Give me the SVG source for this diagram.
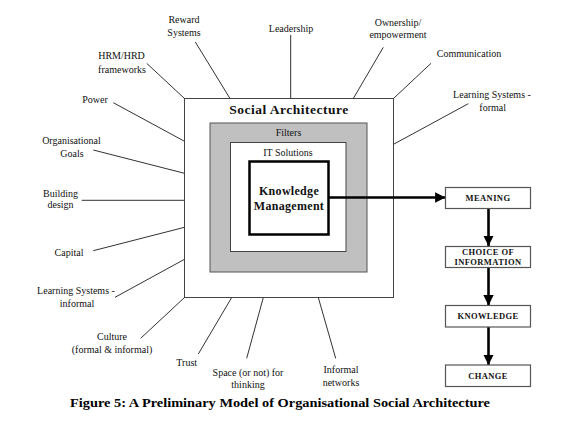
<svg xmlns="http://www.w3.org/2000/svg" width="576" height="432" viewBox="0 0 576 432">
<defs>
<marker id="ah" viewBox="0 0 10 10" refX="10" refY="5" markerWidth="4" markerHeight="4" markerUnits="strokeWidth" orient="auto">
<path d="M0,0 L10,5 L0,10 z" fill="#000"/>
</marker>
<style>
.lbl{font-family:"Liberation Serif","Times New Roman",serif;font-size:10px;fill:#111;text-anchor:middle}
.spoke{stroke:#333;stroke-width:1;fill:none}
.flow{font-family:"Liberation Serif","Times New Roman",serif;font-size:8.5px;font-weight:bold;fill:#111;text-anchor:middle;letter-spacing:0.4px}
.fbox{fill:#fff;stroke:#555;stroke-width:1.2}
.arr{stroke:#000;stroke-width:2.6;fill:none;marker-end:url(#ah)}
</style>
</defs>
<rect width="576" height="432" fill="#fff"/>

<g id="social-architecture">
<rect x="184.5" y="98.5" width="209" height="199" fill="#fff" stroke="#444" stroke-width="1"/>
<text x="289" y="114" style="font-family:'Liberation Serif','Times New Roman',serif;font-size:13.5px;font-weight:bold;fill:#111;text-anchor:middle;letter-spacing:0.5px">Social Architecture</text>
</g>
<g id="filters">
<rect x="210" y="123" width="157" height="149" fill="#c0c0c0" stroke="#555" stroke-width="1"/>
<rect x="230.5" y="142.5" width="115.5" height="109" fill="#fff" stroke="#444" stroke-width="1"/>
<text x="288.5" y="135.5" class="lbl">Filters</text>
</g>
<g id="it-solutions">
<text x="288" y="155.5" class="lbl">IT Solutions</text>
</g>
<g id="knowledge-management">
<rect x="249.5" y="161.5" width="79" height="73" fill="#fff" stroke="#000" stroke-width="2.5"/>
<text x="289" y="195" style="font-family:'Liberation Serif','Times New Roman',serif;font-size:12px;font-weight:bold;fill:#111;text-anchor:middle;letter-spacing:0.3px">Knowledge</text>
<text x="289" y="209.5" style="font-family:'Liberation Serif','Times New Roman',serif;font-size:12px;font-weight:bold;fill:#111;text-anchor:middle;letter-spacing:0.3px">Management</text>
</g>

<g id="connectors">
<line class="spoke" x1="195.3" y1="42" x2="230" y2="98.5"/>
<line class="spoke" x1="290.7" y1="35" x2="290.7" y2="98.5"/>
<line class="spoke" x1="383.3" y1="47.3" x2="353.3" y2="98.5"/>
<line class="spoke" x1="431" y1="63.3" x2="393.5" y2="98.5"/>
<line class="spoke" x1="468.3" y1="103.7" x2="393.5" y2="144.3"/>
<line class="spoke" x1="146.7" y1="63.3" x2="184.5" y2="98.5"/>
<line class="spoke" x1="113.3" y1="102.7" x2="184.5" y2="141.3"/>
<line class="spoke" x1="93.3" y1="150" x2="184.5" y2="173.3"/>
<line class="spoke" x1="81.7" y1="200.3" x2="184.5" y2="200.3"/>
<line class="spoke" x1="93.3" y1="250.7" x2="184.5" y2="227.3"/>
<line class="spoke" x1="115" y1="297.3" x2="184.5" y2="259.3"/>
<line class="spoke" x1="140.7" y1="338.3" x2="184.5" y2="297.5"/>
<line class="spoke" x1="198.3" y1="354" x2="231.7" y2="297.5"/>
<line class="spoke" x1="246.7" y1="358.3" x2="263.3" y2="297.5"/>
<line class="spoke" x1="335.7" y1="358.3" x2="318.3" y2="297.5"/>
<line class="arr" x1="328.5" y1="197.5" x2="445.5" y2="197.5"/>
<line class="arr" x1="488.5" y1="208.5" x2="488.5" y2="246"/>
<line class="arr" x1="488.5" y1="267.5" x2="488.5" y2="305.5"/>
<line class="arr" x1="488.5" y1="327" x2="488.5" y2="365"/>
</g>

<g id="reward-systems"><text class="lbl" x="184" y="23">Reward</text><text class="lbl" x="184" y="36">Systems</text></g>
<g id="leadership"><text class="lbl" x="291" y="32">Leadership</text></g>
<g id="ownership"><text class="lbl" x="398" y="26">Ownership/</text><text class="lbl" x="398" y="38">empowerment</text></g>
<g id="communication"><text class="lbl" x="469" y="57">Communication</text></g>
<g id="learning-formal"><text class="lbl" x="492" y="98">Learning Systems -</text><text class="lbl" x="492.7" y="110.5">formal</text></g>
<g id="hrm-hrd"><text class="lbl" x="121.5" y="59">HRM/HRD</text><text class="lbl" x="122" y="72.5">frameworks</text></g>
<g id="power"><text class="lbl" x="95" y="102.5">Power</text></g>
<g id="org-goals"><text class="lbl" x="71.5" y="143.5">Organisational</text><text class="lbl" x="72" y="156.5">Goals</text></g>
<g id="building-design"><text class="lbl" x="60.5" y="196.5">Building</text><text class="lbl" x="60.5" y="208">design</text></g>
<g id="capital"><text class="lbl" x="69" y="255.5">Capital</text></g>
<g id="learning-informal"><text class="lbl" x="76" y="294">Learning Systems -</text><text class="lbl" x="77" y="307">informal</text></g>
<g id="culture"><text class="lbl" x="112" y="340">Culture</text><text class="lbl" x="112" y="352.5">(formal &amp; informal)</text></g>
<g id="trust"><text class="lbl" x="186.7" y="366">Trust</text></g>
<g id="space"><text class="lbl" x="248" y="375.5">Space (or not) for</text><text class="lbl" x="248" y="387.5">thinking</text></g>
<g id="informal-networks"><text class="lbl" x="341" y="373">Informal</text><text class="lbl" x="341" y="385.5">networks</text></g>

<g id="meaning"><rect class="fbox" x="445.5" y="187.5" width="85" height="21"/><text class="flow" x="488" y="200.8">MEANING</text></g>
<g id="choice"><rect class="fbox" x="445.5" y="246.5" width="85" height="21"/><text class="flow" x="488" y="254.5">CHOICE OF</text><text class="flow" x="488" y="265.3">INFORMATION</text></g>
<g id="knowledge"><rect class="fbox" x="445.5" y="305.5" width="85" height="21.5"/><text class="flow" x="488" y="319.3">KNOWLEDGE</text></g>
<g id="change"><rect class="fbox" x="445.5" y="365" width="85" height="21.5"/><text class="flow" x="488" y="379">CHANGE</text></g>

<g id="caption"><text x="280" y="406.5" textLength="420" lengthAdjust="spacingAndGlyphs" style="font-family:'Liberation Serif','Times New Roman',serif;font-size:13px;font-weight:bold;fill:#000;text-anchor:middle">Figure 5: A Preliminary Model of Organisational Social Architecture</text></g>
</svg>
